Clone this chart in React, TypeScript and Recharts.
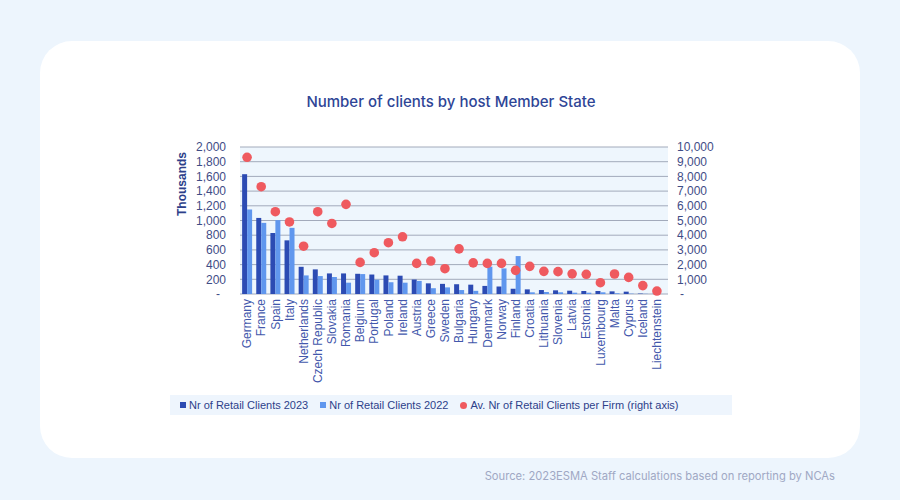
import React from "react";
import {
  ComposedChart,
  Bar,
  Scatter,
  XAxis,
  YAxis,
  CartesianGrid,
} from "recharts";

// host Member States, in the order of the chart
const countries = [
  "Germany", "France", "Spain", "Italy", "Netherlands", "Czech Republic",
  "Slovakia", "Romania", "Belgium", "Portugal", "Poland", "Ireland",
  "Austria", "Greece", "Sweden", "Bulgaria", "Hungary", "Denmark",
  "Norway", "Finland", "Croatia", "Lithuania", "Slovenia", "Latvia",
  "Estonia", "Luxembourg", "Malta", "Cyprus", "Iceland", "Liechtenstein",
];

// retail clients, thousands (left axis)
const clients2023 = [
  1630, 1035, 830, 730, 370, 335, 280, 280, 275, 265, 253, 249, 197, 145,
  138, 133, 127, 110, 102, 70, 63, 54, 50, 45, 41, 41, 36, 32, 6, 2,
];
const clients2022 = [
  1150, 968, 1005, 900, 253, 244, 231, 154, 271, 195, 160, 154, 178, 79,
  90, 54, 43, 372, 348, 516, 23, 27, 23, 18, 18, 23, 10, 5, 3, 1,
];

// average retail clients per firm (right axis)
const avgPerFirm = [
  9300, 7300, 5600, 4900, 3250, 5600, 4800, 6100, 2150, 2810, 3490, 3890,
  2080, 2240, 1720, 3070, 2120, 2080, 2080, 1610, 1880, 1540, 1520, 1370,
  1340, 770, 1360, 1130, 570, 200,
];

const leftTicks = [0, 200, 400, 600, 800, 1000, 1200, 1400, 1600, 1800, 2000];
const rightTicks = [0, 1000, 2000, 3000, 4000, 5000, 6000, 7000, 8000, 9000, 10000];

const data = countries.map((country, i) => ({
  country,
  c2023: clients2023[i],
  c2022: clients2022[i],
  avg: avgPerFirm[i],
}));

const DARK = "#2c4bb3";
const LIGHT = "#6097ee";
const RED = "#ef5a5f";
const AXIS_TEXT = "#3f4c86";
const FONT = "'Liberation Sans', Arial, sans-serif";

const legendItems = [
  { label: "Nr of Retail Clients 2023", color: DARK, round: false },
  { label: "Nr of Retail Clients 2022", color: LIGHT, round: false },
  { label: "Av. Nr of Retail Clients per Firm (right axis)", color: RED, round: true },
];

const fmt = (v: number) => (v === 0 ? "-" : v.toLocaleString("en-US"));

const LeftTick = ({ x, y, payload }: any) => (
  <text
    x={payload.value === 0 ? x - 6 : x}
    y={y}
    dy="0.35em"
    textAnchor="end"
    fill={AXIS_TEXT}
    fontSize={12}
    fontFamily={FONT}
  >
    {fmt(payload.value)}
  </text>
);

const RightTick = ({ x, y, payload }: any) => (
  <text
    x={payload.value === 0 ? x + 3 : x}
    y={y}
    dy="0.35em"
    textAnchor="start"
    fill={AXIS_TEXT}
    fontSize={12}
    fontFamily={FONT}
  >
    {fmt(payload.value)}
  </text>
);

const CountryTick = ({ x, y, payload }: any) => (
  <text
    x={x}
    y={y}
    dy="0.35em"
    textAnchor="end"
    transform={`rotate(-90, ${x}, ${y})`}
    fill="#4358ac"
    fontSize={12}
    fontFamily={FONT}
  >
    {payload.value}
  </text>
);

const Dot = (p: any) => <circle cx={p.cx} cy={p.cy} r={4.8} fill={RED} />;

export default function App() {
  return (
    <div
      style={{
        position: "absolute",
        left: 0,
        top: 0,
        width: 900,
        height: 500,
        background: "#edf5fd",
        overflow: "hidden",
      }}
    >
      <div
        style={{
          position: "absolute",
          left: 40,
          top: 41,
          width: 820,
          height: 417,
          background: "#ffffff",
          borderRadius: 32,
        }}
      />
      <div
        style={{
          position: "absolute",
          left: 0,
          top: 92,
          width: 902,
          textAlign: "center",
          fontFamily: "Inter, 'Open Sans', sans-serif",
          fontWeight: 500,
          fontSize: 15,
          color: "#2e4596",
        }}
      >
        Number of clients by host Member State
      </div>

      <div style={{ position: "absolute", left: 0, top: 0 }}>
        <ComposedChart
          width={900}
          height={500}
          data={data}
          margin={{ top: 147, right: 172, bottom: 106, left: 190 }}
          barCategoryGap="15%"
          barGap={0}
        >
          <CartesianGrid
            yAxisId="left"
            vertical={false}
            stroke="#a2aabb"
            fill="#eef6fd"
            fillOpacity={1}
          />
          <XAxis
            dataKey="country"
            interval={0}
            height={100}
            tickLine={false}
            axisLine={false}
            tickSize={0}
            tickMargin={5}
            padding={{ left: 0, right: 4 }}
            tick={<CountryTick />}
          />
          <YAxis
            yAxisId="left"
            width={50}
            domain={[0, 2000]}
            ticks={leftTicks}
            interval={0}
            tickLine={false}
            axisLine={false}
            tickSize={0}
            tickMargin={14}
            tick={<LeftTick />}
            label={{
              value: "Thousands",
              content: () => (
                <text
                  x={182}
                  y={184}
                  transform="rotate(-90, 182, 184)"
                  textAnchor="middle"
                  dominantBaseline="central"
                  fill="#2d3f8a"
                  fontWeight="bold"
                  fontSize={12}
                  fontFamily={FONT}
                >
                  Thousands
                </text>
              ),
            }}
          />
          <YAxis
            yAxisId="right"
            orientation="right"
            width={60}
            domain={[0, 10000]}
            ticks={rightTicks}
            interval={0}
            tickLine={false}
            axisLine={false}
            tickSize={0}
            tickMargin={9}
            tick={<RightTick />}
          />
          <Bar yAxisId="left" dataKey="c2023" fill={DARK} isAnimationActive={false} />
          <Bar yAxisId="left" dataKey="c2022" fill={LIGHT} isAnimationActive={false} />
          <Scatter
            yAxisId="right"
            dataKey="avg"
            fill={RED}
            shape={<Dot />}
            isAnimationActive={false}
          />
        </ComposedChart>
      </div>

      <div
        style={{
          position: "absolute",
          left: 170,
          top: 395,
          width: 562,
          height: 20,
          background: "#eef5fd",
          display: "flex",
          alignItems: "center",
          paddingLeft: 10,
          boxSizing: "border-box",
          fontFamily: FONT,
          fontSize: 11,
          color: "#2d3f8a",
          whiteSpace: "nowrap",
        }}
      >
        {legendItems.map((it) => (
          <div
            key={it.label}
            style={{ display: "flex", alignItems: "center", marginRight: 12 }}
          >
            <span
              style={{
                display: "inline-block",
                width: it.round ? 7 : 6,
                height: it.round ? 7 : 6,
                borderRadius: it.round ? "50%" : 0,
                background: it.color,
                marginRight: 3,
              }}
            />
            <span>{it.label}</span>
          </div>
        ))}
      </div>

      <div
        style={{
          position: "absolute",
          right: 65,
          top: 469,
          fontFamily: "Inter, 'Open Sans', sans-serif",
          fontSize: 11.2,
          color: "#a0a8c4",
          whiteSpace: "nowrap",
        }}
      >
        Source: 2023ESMA Staff calculations based on reporting by NCAs
      </div>
    </div>
  );
}
